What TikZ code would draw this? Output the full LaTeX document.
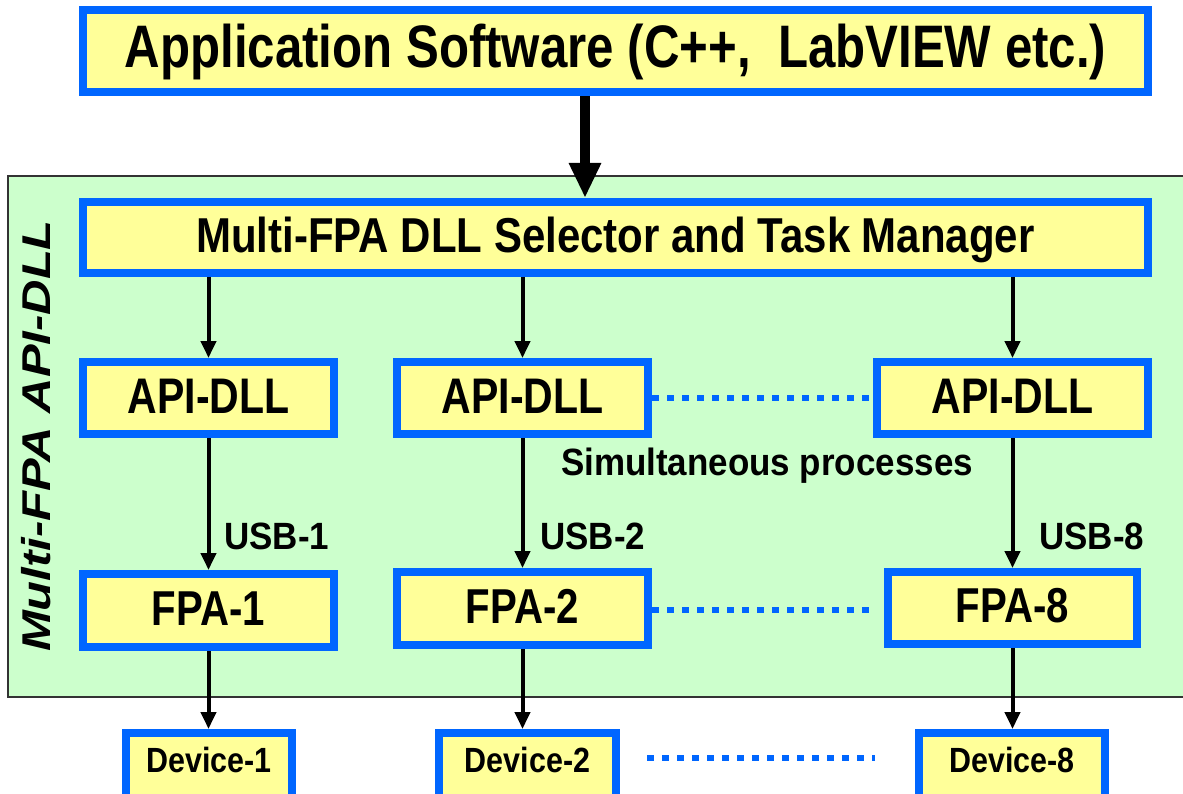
\documentclass[tikz,border=0pt]{standalone}
\usepackage{fontspec}
\setmainfont{Liberation Sans}[FakeStretch=0.82]
\newfontfamily\mgrfont{Liberation Sans}[FakeStretch=0.857]
\newfontfamily\devfont{Liberation Sans}[FakeStretch=0.87]
\newfontfamily\lblfont{Liberation Sans}[FakeStretch=0.92]
\newfontfamily\sidefont{Liberation Sans}
\usetikzlibrary{arrows.meta,calc}

\definecolor{boxblue}{RGB}{0,102,255}
\definecolor{boxfill}{RGB}{255,255,153}
\definecolor{panelfill}{RGB}{204,255,204}
\definecolor{panelline}{RGB}{51,51,51}

\tikzset{
  box/.style={draw=boxblue, fill=boxfill, line width=8pt, inner sep=0pt,
              font=\bfseries},
  big/.style={font=\bfseries\fontsize{60}{70}\selectfont, text height=43pt, text depth=9pt},
  mid/.style={font=\mgrfont\bfseries\fontsize{49}{58}\selectfont, text height=35pt, text depth=4pt},
  api/.style={font=\bfseries\fontsize{50}{60}\selectfont, text height=36pt, text depth=6pt},
  fpa/.style={font=\bfseries\fontsize{49}{58}\selectfont, text height=35pt, text depth=6pt},
  dev/.style={font=\devfont\bfseries\fontsize{35}{42}\selectfont, text height=25pt, text depth=14pt},
  lbl/.style={font=\lblfont\bfseries\fontsize{38}{46}\selectfont, inner sep=0pt},
  link/.style={line width=4pt, -{Triangle[width=15pt,length=17pt]}},
  bigarrow/.style={line width=10pt, -{Triangle[width=30pt,length=35pt]}},
  dotline/.style={draw=boxblue, line width=6pt, dash pattern=on 7pt off 8pt},
}

\begin{document}
\begin{tikzpicture}[x=1pt,y=-1pt]
\useasboundingbox (0,0) rectangle (1183,794);

% green panel holding the multi-FPA API-DLL layer
\draw[fill=panelfill, draw=panelline, line width=2pt] (8,176) rectangle (1195,697);

% top application layer
\node[box,big, minimum width=1065pt, minimum height=82pt] (app) at (615.5,51)
  {Application Software (C++,\ \ LabVIEW etc.)};

% selector and task manager
\node[box,mid, minimum width=1065pt, minimum height=71pt] (mgr) at (615.5,237.5)
  {Multi-FPA DLL Selector and Task Manager};

% API-DLL row
\node[box,api, minimum width=251pt, minimum height=72pt] (api1) at (208.5,398) {API-DLL};
\node[box,api, minimum width=251pt, minimum height=72pt] (api2) at (522.5,398) {API-DLL};
\node[box,api, minimum width=271pt, minimum height=72pt] (api3) at (1012.5,398) {API-DLL};

% FPA row
\node[box,fpa, minimum width=251pt, minimum height=73pt] (fpa1) at (208.5,610.5) {FPA-1};
\node[box,fpa, minimum width=251pt, minimum height=73pt] (fpa2) at (522.5,608.5) {FPA-2};
\node[box,fpa, minimum width=249pt, minimum height=72pt] (fpa8) at (1012.5,608) {FPA-8};

% device row
\node[box,dev, minimum width=166pt, minimum height=67pt] (dev1) at (209,766.5) {Device-1};
\node[box,dev, minimum width=177pt, minimum height=67pt] (dev2) at (527.5,766.5) {Device-2};
\node[box,dev, minimum width=186pt, minimum height=67pt] (dev8) at (1012,766.5) {Device-8};

% side title of the panel
\node[rotate=90, anchor=base, inner sep=0pt,
      font=\sidefont\bfseries\itshape\fontsize{49}{58}\selectfont] (side) at (50,436)
  {\scalebox{1}[0.82]{Multi-FPA API-DLL}};

% labels
\node[lbl, anchor=base west] (usb1) at (224,549) {USB-1};
\node[lbl, anchor=base west] (usb2) at (540,549) {USB-2};
\node[lbl, anchor=base west] (usb8) at (1039,549) {USB-8};
\node[lbl, anchor=base] (simul) at (767,475) {Simultaneous processes};

% connectors
\draw[bigarrow] ([xshift=-30.5pt]app.south) -- ([xshift=-30.5pt]mgr.north);
\foreach \a in {api1,api2,api3}
  \draw[link] (mgr.south -| \a.north) -- (\a.north);
\draw[link] (api1.south) -- (fpa1.north);
\draw[link] (api2.south) -- (fpa2.north);
\draw[link] (api3.south) -- (fpa8.north);
\draw[link] (fpa1.south) -- (fpa1.south |- dev1.north);
\draw[link] (fpa2.south) -- (fpa2.south |- dev2.north);
\draw[link] (fpa8.south) -- (fpa8.south |- dev8.north);

% dotted links standing for the omitted channels
\draw[dotline] (api2.east) -- (api3.west);
\draw[dotline] ([yshift=-1.5pt]fpa2.east) -- ([xshift=-9pt,yshift=-2pt]fpa8.west);
\draw[dotline] ([xshift=27pt,yshift=8.5pt]dev2.east) -- ([xshift=-40pt,yshift=8.5pt]dev8.west);
\end{tikzpicture}
\end{document}
